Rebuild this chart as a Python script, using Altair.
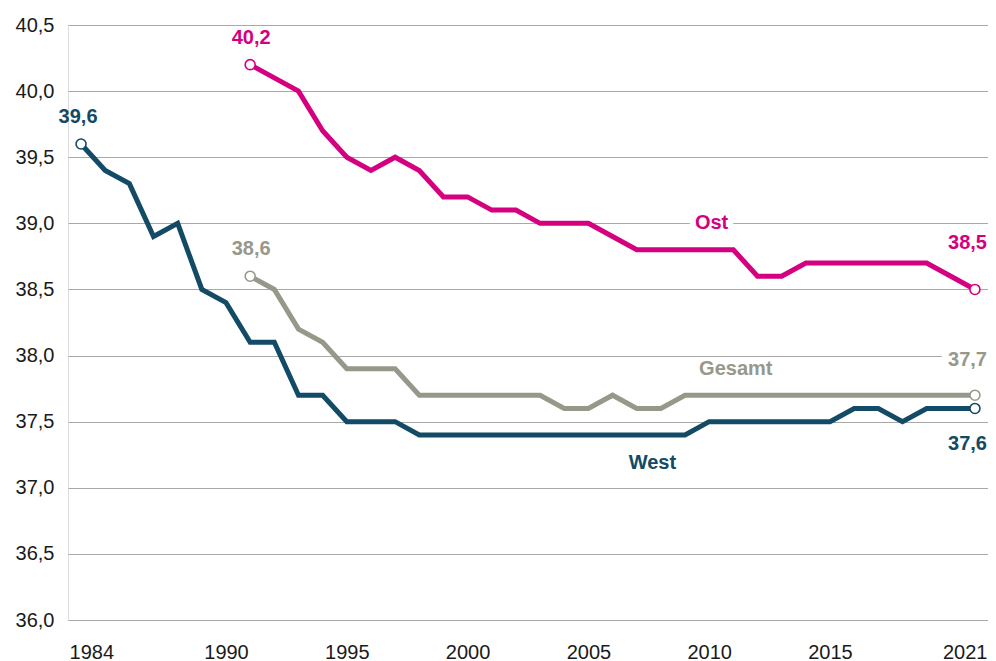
import altair as alt
import pandas as pd

years_west = list(range(1984, 2022))
west = [39.6, 39.4, 39.3, 38.9, 39.0, 38.5, 38.4, 38.1, 38.1, 37.7, 37.7, 37.5, 37.5, 37.5,
        37.4, 37.4, 37.4, 37.4, 37.4, 37.4, 37.4, 37.4, 37.4, 37.4, 37.4, 37.4,
        37.5, 37.5, 37.5, 37.5, 37.5, 37.5, 37.6, 37.6, 37.5, 37.6, 37.6, 37.6]
years_east = list(range(1991, 2022))
ost = [40.2, 40.1, 40.0, 39.7, 39.5, 39.4, 39.5, 39.4, 39.2, 39.2, 39.1, 39.1, 39.0, 39.0,
       39.0, 38.9, 38.8, 38.8, 38.8, 38.8, 38.8, 38.6, 38.6, 38.7, 38.7, 38.7, 38.7, 38.7,
       38.7, 38.6, 38.5]
gesamt = [38.6, 38.5, 38.2, 38.1, 37.9, 37.9, 37.9, 37.7, 37.7, 37.7, 37.7, 37.7, 37.7, 37.6,
          37.6, 37.7, 37.6, 37.6, 37.7, 37.7, 37.7, 37.7, 37.7, 37.7, 37.7, 37.7, 37.7, 37.7,
          37.7, 37.7, 37.7]

series_names = ["West", "Ost", "Gesamt"]
series_colors = ["#134a66", "#d5007f", "#98988a"]

rows = []
for y, v in zip(years_west, west):
    rows.append({"Jahr": y, "Wert": v, "Serie": "West"})
for y, v in zip(years_east, ost):
    rows.append({"Jahr": y, "Wert": v, "Serie": "Ost"})
for y, v in zip(years_east, gesamt):
    rows.append({"Jahr": y, "Wert": v, "Serie": "Gesamt"})
df = pd.DataFrame(rows)

# endpoint markers
ends = pd.concat([
    df[df.Serie == s].iloc[[0, -1]] for s in series_names
]).reset_index(drop=True)
ends["Text"] = ends["Wert"].map(lambda v: f"{v:.1f}".replace(".", ","))

# label placement (pixel offsets from the endpoint)
end_style = {
    ("West", 1984): ("center", -3, -27, False),
    ("West", 2021): ("right", 12, 36, False),
    ("Ost", 1991): ("center", 1, -27, False),
    ("Ost", 2021): ("right", 12, -46, False),
    ("Gesamt", 1991): ("center", 1, -27, False),
    ("Gesamt", 2021): ("right", 12, -35, True),
}

# series name labels
name_labels = pd.DataFrame({
    "Jahr": [2010.1, 2011.1, 2007.65],
    "Wert": [39.0, 37.9, 37.19],
    "Text": ["Ost", "Gesamt", "West"],
    "Serie": ["Ost", "Gesamt", "West"],
    "Halo": [True, False, False],
})

FONT = "Liberation Sans"
LBL = 20

x_scale = alt.Scale(domain=[1983.46, 2021.54], nice=False, zero=False)
y_scale = alt.Scale(domain=[36.0, 40.5], nice=False, zero=False)
color_scale = alt.Scale(domain=series_names, range=series_colors)

x_enc = alt.X("Jahr:Q", scale=x_scale,
              axis=alt.Axis(values=[1984, 1990, 1995, 2000, 2005, 2010, 2015, 2021],
                            format="d", grid=False, domain=False, ticks=False, tickSize=0,
                            labelFlush=20, labelFlushOffset=12, labelPadding=22,
                            labelFontSize=20, labelFont=FONT, labelColor="#1a1a1a",
                            title=None))
y_enc = alt.Y("Wert:Q", scale=y_scale,
              axis=alt.Axis(values=[36.0, 36.5, 37.0, 37.5, 38.0, 38.5, 39.0, 39.5, 40.0, 40.5],
                            format=".1f", labelExpr="replace(datum.label, '.', ',')",
                            grid=True, gridColor="#a8a8a8", gridWidth=1.2,
                            domain=False, ticks=False, tickSize=0, labelPadding=14,
                            labelFontSize=20, labelFont=FONT, labelColor="#1a1a1a",
                            title=None))
c_enc = alt.Color("Serie:N", scale=color_scale, legend=None)

lines = alt.Chart(df).mark_line(strokeWidth=5, strokeJoin="miter").encode(
    x=x_enc, y=y_enc, color=c_enc, detail="Serie:N")

halo_names = name_labels[name_labels.Halo]
name_halo = alt.Chart(halo_names).mark_text(
    font=FONT, fontSize=LBL, fontWeight="bold", stroke="white", strokeWidth=12,
    strokeJoin="round", align="center", baseline="middle").encode(
    x="Jahr:Q", y="Wert:Q", text="Text:N")
name_text = alt.Chart(name_labels).mark_text(
    font=FONT, fontSize=LBL, fontWeight="bold", align="center", baseline="middle").encode(
    x="Jahr:Q", y="Wert:Q", text="Text:N", color=c_enc)

halo_layers = []
text_layers = []
for (serie, jahr), (align, dx, dy, halo) in end_style.items():
    sub = ends[(ends.Serie == serie) & (ends.Jahr == jahr)]
    if halo:
        halo_layers.append(alt.Chart(sub).mark_text(
            font=FONT, fontSize=LBL, fontWeight="bold", stroke="white", strokeWidth=14,
            strokeJoin="round", align=align, baseline="middle",
            dx=dx, dy=dy).encode(x="Jahr:Q", y="Wert:Q", text="Text:N"))
    text_layers.append(alt.Chart(sub).mark_text(
        font=FONT, fontSize=LBL, fontWeight="bold", align=align, baseline="middle",
        dx=dx, dy=dy).encode(x="Jahr:Q", y="Wert:Q", text="Text:N", color=c_enc))

points = alt.Chart(ends).mark_point(
    shape="circle", size=100, filled=False, fill="white", fillOpacity=1,
    strokeWidth=1.6, opacity=1).encode(x="Jahr:Q", y="Wert:Q", color=c_enc)

chart = alt.layer(name_halo, *halo_layers, lines, points, name_text,
                  *text_layers).properties(
    width=920, height=595,
    autosize=alt.AutoSizeParams(type="none"),
    padding={"left": 60, "top": 17, "right": 0, "bottom": 41},
).configure_view(stroke=None).configure(background="white")

chart.save("out.html", embed_options={"renderer": "svg", "actions": False})
